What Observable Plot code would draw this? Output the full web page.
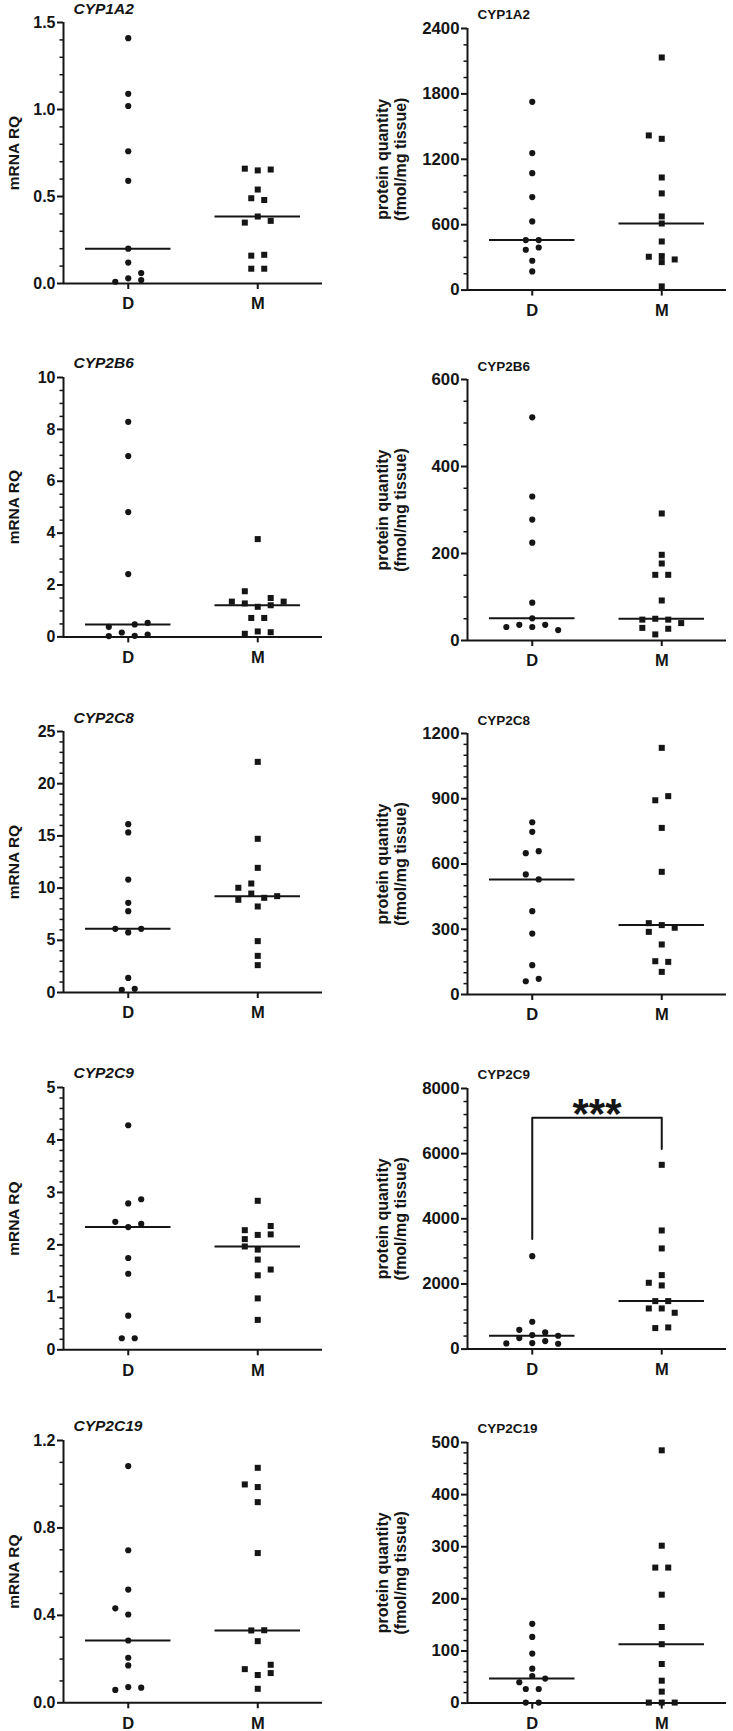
<!DOCTYPE html>
<html><head><meta charset="utf-8">
<script src="https://cdn.jsdelivr.net/npm/d3@7"></script>
<script src="https://cdn.jsdelivr.net/npm/@observablehq/plot@0.6"></script>
<style>
body{margin:0;background:#fff;}
#fig{position:relative;width:733px;height:1731px;overflow:hidden;background:#fff;}
#fig svg{position:absolute;overflow:visible;}
</style></head><body><div id="fig"></div>
<script>
const groups = ["D", "M"];
const genes = ["CYP1A2", "CYP2B6", "CYP2C8", "CYP2C9", "CYP2C19"];
const mrnaLabel = "mRNA RQ";
const proteinLabel = "protein quantity\n(fmol/mg tissue)";

// CYP1A2
const cyp1a2MrnaD = [1.41, 1.09, 1.02, 0.76, 0.59, 0.20, 0.12, 0.06, 0.03, 0.02, 0.01];
const cyp1a2MrnaDCol = [0, 0, 0, 0, 0, 0, 0, 2, 0, 2, -2];
const cyp1a2MrnaM = [0.66, 0.65, 0.655, 0.54, 0.49, 0.48, 0.385, 0.35, 0.36, 0.16, 0.165, 0.085, 0.085];
const cyp1a2MrnaMCol = [-2, 0, 2, 0, -1, 1, 0, -2, 2, -1, 1, -1, 1];
const cyp1a2ProtD = [1727, 1257, 1073, 853, 630, 459, 459, 391, 370, 269, 171];
const cyp1a2ProtDCol = [0, 0, 0, 0, 0, -1, 1, 1, -1, 0, 0];
const cyp1a2ProtM = [2134, 1419, 1388, 1033, 887, 676, 611, 446, 306, 312, 281, 257, 34];
const cyp1a2ProtMCol = [0, -2, 0, 0, 0, 0, 0, 0, -2, 0, 2, 0, 0];

// CYP2B6
const cyp2b6MrnaD = [8.29, 6.97, 4.81, 2.42, 0.54, 0.48, 0.39, 0.17, 0.09, 0.03, 0.04];
const cyp2b6MrnaDCol = [0, 0, 0, 0, 3, 1, -3, -1, 3, -3, 1];
const cyp2b6MrnaM = [3.77, 1.76, 1.36, 1.29, 1.50, 1.36, 1.16, 1.22, 0.73, 0.73, 0.12, 0.21, 0.18];
const cyp2b6MrnaMCol = [0, -2, -4, -2, 2, 4, 0, 2, -1, 1, -2, 0, 2];
const cyp2b6ProtD = [513, 331, 278, 225, 87, 51, 31, 36, 31, 36, 24];
const cyp2b6ProtDCol = [0, 0, 0, 0, 0, 0, -4, -2, 0, 2, 4];
const cyp2b6ProtM = [292, 197, 177, 151, 151, 92, 50, 48, 48, 40, 29, 27, 14];
const cyp2b6ProtMCol = [0, 0, 0, -1, 1, 0, -1, -3, 1, 3, -3, 1, -1];

// CYP2C8
const cyp2c8MrnaD = [16.12, 15.33, 10.82, 8.59, 7.79, 6.10, 6.10, 5.75, 1.40, 0.26, 0.35];
const cyp2c8MrnaDCol = [0, 0, 0, 0, 0, -2, 2, 0, 0, -1, 1];
const cyp2c8MrnaM = [22.09, 14.72, 11.94, 10.44, 10.03, 9.48, 9.23, 9.07, 8.88, 8.24, 4.92, 3.51, 2.62];
const cyp2c8MrnaMCol = [0, 0, 0, -1, -3, -1, 3, 1, -3, 0, 0, 0, 0];
const cyp2c8ProtD = [792, 748, 650, 659, 552, 529, 383, 280, 135, 61, 72];
const cyp2c8ProtDCol = [0, 0, -1, 1, -1, 1, 0, 0, 0, -1, 1];
const cyp2c8ProtM = [1134, 893, 912, 766, 564, 328, 319, 307, 288, 230, 153, 150, 104];
const cyp2c8ProtMCol = [0, -1, 1, 0, 0, -2, 0, 2, -2, 0, -1, 1, 0];

// CYP2C9
const cyp2c9MrnaD = [4.28, 2.87, 2.79, 2.44, 2.40, 2.34, 1.75, 1.45, 0.65, 0.22, 0.22];
const cyp2c9MrnaDCol = [0, 2, 0, -2, 2, 0, 0, 0, 0, -1, 1];
const cyp2c9MrnaM = [2.84, 2.36, 2.28, 2.20, 2.19, 2.11, 1.97, 1.91, 1.72, 1.53, 1.42, 0.98, 0.57];
const cyp2c9MrnaMCol = [0, 2, -2, 2, 0, -2, -2, 0, 0, 2, 0, 0, 0];
const cyp2c9ProtD = [2854, 839, 593, 512, 430, 409, 338, 245, 184, 174, 164];
const cyp2c9ProtDCol = [0, 0, -2, 2, 0, 4, -2, 2, 0, -4, 4];
const cyp2c9ProtM = [5657, 3642, 3090, 2271, 2036, 1954, 1473, 1473, 1248, 1248, 1115, 645, 665];
const cyp2c9ProtMCol = [0, 0, 0, 0, -2, 0, -1, 1, -2, 0, 2, -1, 1];
// significance bracket (left foot, top, right foot) and label
const cyp2c9ProtBracket = [3380, 7100, 6140];
const cyp2c9ProtStars = "***";

// CYP2C19
const cyp2c19MrnaD = [1.083, 0.698, 0.518, 0.432, 0.404, 0.285, 0.206, 0.171, 0.059, 0.072, 0.069];
const cyp2c19MrnaDCol = [0, 0, 0, -2, 0, 0, 0, 0, -2, 0, 2];
const cyp2c19MrnaM = [1.075, 0.999, 0.987, 0.918, 0.685, 0.331, 0.332, 0.282, 0.154, 0.127, 0.174, 0.136, 0.064];
const cyp2c19MrnaMCol = [0, -2, 0, 0, 0, -1, 1, 0, -2, 0, 2, 2, 0];
const cyp2c19ProtD = [152, 127, 95, 66, 52, 47, 40, 27, 27, 1, 1];
const cyp2c19ProtDCol = [0, 0, 0, 0, 0, 2, -2, -1, 1, -1, 1];
const cyp2c19ProtM = [485, 302, 260, 260, 208, 146, 113, 75, 43, 22, 1, 1, 1];
const cyp2c19ProtMCol = [0, 0, -1, 1, 0, 0, 0, 0, 0, 0, -2, 0, 2];

// axis settings per panel: [max, major step, minor step, decimals]
const mrnaAxes = [[1.5, 0.5, 0.1, 1], [10, 2, 0.5, 0], [25, 5, 1, 0], [5, 1, 0.2, 0], [1.2, 0.4, 0.1, 1]];
const protAxes = [[2400, 600, 150, 0], [600, 200, 50, 0], [1200, 300, 50, 0], [8000, 2000, 400, 0], [500, 100, 20, 0]];

// layout (pixels)
const leftTops = [21.7, 377.3, 730.7, 1086.7, 1440];
const leftBottoms = [282.7, 636.7, 991.7, 1349, 1702.3];
const rightTops = [27.7, 379, 733.3, 1087.7, 1441.7];
const rightBottoms = [289.3, 640, 994.3, 1348.3, 1702.3];

const mrnaSets = [
  [cyp1a2MrnaD, cyp1a2MrnaDCol, cyp1a2MrnaM, cyp1a2MrnaMCol],
  [cyp2b6MrnaD, cyp2b6MrnaDCol, cyp2b6MrnaM, cyp2b6MrnaMCol],
  [cyp2c8MrnaD, cyp2c8MrnaDCol, cyp2c8MrnaM, cyp2c8MrnaMCol],
  [cyp2c9MrnaD, cyp2c9MrnaDCol, cyp2c9MrnaM, cyp2c9MrnaMCol],
  [cyp2c19MrnaD, cyp2c19MrnaDCol, cyp2c19MrnaM, cyp2c19MrnaMCol]
];
const protSets = [
  [cyp1a2ProtD, cyp1a2ProtDCol, cyp1a2ProtM, cyp1a2ProtMCol],
  [cyp2b6ProtD, cyp2b6ProtDCol, cyp2b6ProtM, cyp2b6ProtMCol],
  [cyp2c8ProtD, cyp2c8ProtDCol, cyp2c8ProtM, cyp2c8ProtMCol],
  [cyp2c9ProtD, cyp2c9ProtDCol, cyp2c9ProtM, cyp2c9ProtMCol],
  [cyp2c19ProtD, cyp2c19ProtDCol, cyp2c19ProtM, cyp2c19ProtMCol]
];

const INK = "#151515";
const FONT = "'Liberation Sans', Arial, Helvetica, sans-serif";
const SLOT = 0.05;   // jitter column width in x units
const HALF = 0.33;   // half width of median line in x units
const fig = document.getElementById("fig");

function drawPanel(set, axis, title, italic, ylabel, geo, extra) {
  const [D, Dc, M, Mc] = set;
  const [ymax, majorStep, minorStep, dec] = axis;
  const major = d3.range(0, ymax + majorStep / 2, majorStep);
  const minor = d3.range(0, ymax + minorStep / 2, minorStep)
    .filter(v => !major.some(m => Math.abs(m - v) < minorStep / 10));
  const fmt = d3.format("." + dec + "f");
  const dRows = D.map((v, i) => ({g: 1, v, c: Dc[i]}));
  const mRows = M.map((v, i) => ({g: 2, v, c: Mc[i]}));
  const med = [{g: 1, m: d3.median(D)}, {g: 2, m: d3.median(M)}];
  const mt = 30, mb = 40;
  const inner = geo.bottom - geo.top;
  const tickFont = italic ? 16 : 16.8;
  const marks = [
    Plot.axisY({ticks: minor, tickSize: 3.5, tickFormat: () => "", label: null, stroke: INK, strokeWidth: 1.5}),
    Plot.axisY({ticks: major, tickSize: 6, tickPadding: 2, tickFormat: fmt, label: null, stroke: INK, strokeWidth: 2, fill: INK, fontSize: tickFont}),
    Plot.axisX({ticks: [1, 2], tickSize: 6, tickPadding: 8, tickFormat: d => groups[d - 1], label: null, stroke: INK, strokeWidth: 2, fill: INK, fontSize: 16.5}),
    Plot.ruleX([0.5], {y1: 0, y2: ymax, stroke: INK, strokeWidth: 2}),
    Plot.ruleY([0], {x1: 0.5, x2: 2.5, stroke: INK, strokeWidth: 2}),
    Plot.ruleY(med, {y: "m", x1: d => d.g - HALF, x2: d => d.g + HALF, stroke: INK, strokeWidth: 2}),
    Plot.dot(dRows, {x: d => d.g + d.c * SLOT, y: "v", r: 3.1, symbol: "circle", fill: INK, stroke: "none"}),
    Plot.dot(mRows, {x: d => d.g + d.c * SLOT, y: "v", r: 3.4, symbol: "square", fill: INK, stroke: "none"}),
    Plot.text([title], {frameAnchor: "top-left", dx: 10, dy: -9, lineAnchor: "bottom", textAnchor: "start",
      fontSize: italic ? 15.5 : 13.5, fontStyle: italic ? "italic" : "normal", fontWeight: "bold", fill: INK}),
    Plot.text([ylabel], {frameAnchor: "left", rotate: -90, dx: italic ? -50 : -76, textAnchor: "middle", lineAnchor: "middle",
      lineHeight: 1.1, fontSize: italic ? 15.5 : 16, fontWeight: "bold", fill: INK})
  ];
  if (extra) marks.push(...extra);
  const svg = Plot.plot({
    width: geo.width, height: mt + inner + mb,
    marginLeft: geo.ml, marginRight: geo.mr, marginTop: mt, marginBottom: mb,
    x: {type: "linear", domain: [0.5, 2.5], axis: null},
    y: {type: "linear", domain: [0, ymax], axis: null},
    style: {fontFamily: FONT, fontWeight: "bold", fontSize: "16px", color: INK, background: "transparent", overflow: "visible"},
    marks
  });
  svg.style.left = geo.left + "px";
  svg.style.top = (geo.top - mt) + "px";
  fig.append(svg);
}

const bracketMarks = [
  Plot.line([{x: 1, y: cyp2c9ProtBracket[0]}, {x: 1, y: cyp2c9ProtBracket[1]}, {x: 2, y: cyp2c9ProtBracket[1]}, {x: 2, y: cyp2c9ProtBracket[2]}],
    {x: "x", y: "y", stroke: INK, strokeWidth: 2, curve: "linear"}),
  Plot.text([cyp2c9ProtStars], {x: 1.5, y: d3.mean([cyp2c9ProtBracket[1], 8000]), dy: 11, fontSize: 42, fontWeight: "bold", fill: INK, textAnchor: "middle", lineAnchor: "middle"})
];

for (let i = 0; i < 5; i++) {
  drawPanel(mrnaSets[i], mrnaAxes[i], genes[i], true, mrnaLabel,
    {left: 0, width: 340, ml: 63, mr: 18, top: leftTops[i], bottom: leftBottoms[i]});
  drawPanel(protSets[i], protAxes[i], genes[i], false, proteinLabel,
    {left: 366, width: 367, ml: 101, mr: 7, top: rightTops[i], bottom: rightBottoms[i]},
    i === 3 ? bracketMarks : null);
}
</script>
</body></html>
